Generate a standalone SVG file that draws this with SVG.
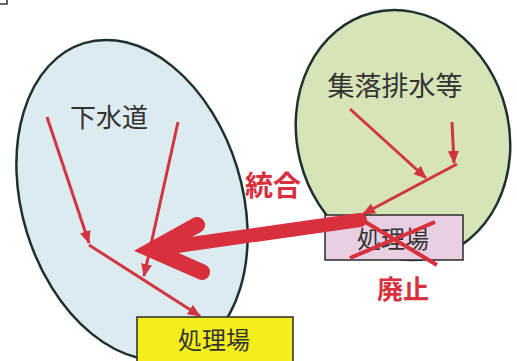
<svg xmlns="http://www.w3.org/2000/svg" width="517" height="361" viewBox="0 0 517 361">
<style>
.ell{stroke:#1e3030;stroke-width:2.5}
.lbl{font-family:"Noto Sans CJK JP","Noto Sans",sans-serif;fill:#333;text-anchor:middle}
.red{font-family:"Noto Sans CJK JP","Noto Sans",sans-serif;fill:#d8303c;font-weight:bold;text-anchor:middle}
.thin{fill:none;stroke:#d33540;stroke-width:3}
.box{stroke:#2a2a2a;stroke-width:1.5}
</style>
<defs>
<marker id="ah" markerUnits="userSpaceOnUse" markerWidth="13" markerHeight="11" refX="12" refY="5.5" orient="auto">
<path d="M0,0 L13,5.5 L0,11 z" fill="#d33540"/>
</marker>
</defs>
<rect width="517" height="361" fill="#ffffff"/>
<path d="M0,4 H7 V0" fill="none" stroke="#333" stroke-width="1.5"/>
<g id="gesuido">
<ellipse class="ell" cx="132" cy="200" rx="110" ry="164" transform="rotate(-17 132 200)" fill="#dcebef"/>
<text class="lbl" x="109" y="127" font-size="26">下水道</text>
</g>
<g id="shuraku">
<ellipse class="ell" cx="403" cy="135" rx="106" ry="126" transform="rotate(-14 403 135)" fill="#d6e4b8"/>
<text class="lbl" x="395" y="96" font-size="27">集落排水等</text>
</g>
<g id="connectors">
<path class="thin" d="M47,117 L89,243" marker-end="url(#ah)"/>
<path class="thin" d="M89,245 L200,316" marker-end="url(#ah)"/>
<path class="thin" d="M178,122 L144,276" marker-end="url(#ah)"/>
<path class="thin" d="M350,109 L426,178" marker-end="url(#ah)"/>
<path class="thin" d="M452,122 L454,163" marker-end="url(#ah)"/>
<path class="thin" d="M457,164 L363,214" marker-end="url(#ah)"/>
</g>
<g id="plant-gesuido">
<rect class="box" x="137" y="317" width="156" height="50" fill="#f4ef1c"/>
<text class="lbl" x="214" y="349" font-size="24">処理場</text>
</g>
<g id="plant-shuraku">
<rect class="box" x="325" y="215" width="138" height="45" fill="#e8d0e2"/>
<text class="lbl" x="393" y="248" font-size="24">処理場</text>
</g>
<g id="integration">
<path d="M360,220 L170,247" fill="none" stroke="#d8303c" stroke-width="14" stroke-linecap="round"/>
<path d="M197,225 L152,250 L202,272" fill="none" stroke="#d8303c" stroke-width="16" stroke-linecap="round" stroke-linejoin="miter"/>
<text class="red" x="273" y="196" font-size="28">統合</text>
</g>
<g id="abolish">
<path d="M350,258 L435,222 M357,217 L437,265" fill="none" stroke="#d8303c" stroke-width="4"/>
<text class="red" x="403" y="299" font-size="26">廃止</text>
</g>
</svg>
